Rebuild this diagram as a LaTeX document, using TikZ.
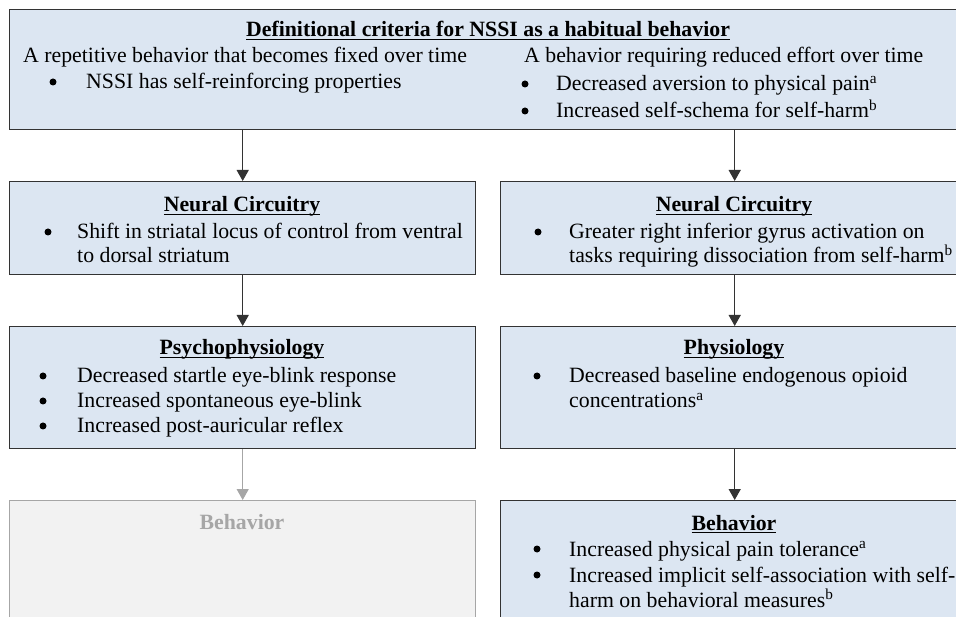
\documentclass[tikz,border=0pt]{standalone}
\usepackage{fontspec}
\setmainfont{Liberation Serif}
\usetikzlibrary{arrows.meta}
\definecolor{boxfill}{HTML}{DCE6F2}
\definecolor{boxline}{HTML}{333333}
\definecolor{greyfill}{HTML}{F2F2F2}
\definecolor{greyline}{HTML}{A6A6A6}
\newcommand\myul[1]{\setbox0\hbox{#1}\rlap{\rule[-3pt]{\wd0}{1.3pt}}\box0}
\begin{document}
\begin{tikzpicture}[x=1pt,y=-1pt,
  box/.style={draw=boxline, fill=boxfill, line width=1.4pt, inner sep=0pt, anchor=north west},
  gbox/.style={draw=greyline, fill=greyfill, line width=1.4pt, inner sep=0pt, anchor=north west},
  txt/.style={anchor=base west, inner sep=0pt, font=\fontsize{21.8}{26}\selectfont},
  ttl/.style={anchor=base, inner sep=0pt, font=\fontsize{21.8}{26}\selectfont\bfseries},
  bul/.style={circle, fill=black, draw=none, inner sep=0pt, minimum size=7pt, yshift=7pt},
  arr/.style={draw=boxline, line width=1.4pt, -{Triangle[length=11pt,width=12pt]}},
  garr/.style={draw=greyline, line width=1.4pt, -{Triangle[length=11pt,width=12pt]}}]
\useasboundingbox (0,0) rectangle (956,617);
\clip (0,0) rectangle (956,617);

% boxes
\node[box, minimum width=959pt, minimum height=120pt] (top) at (9,9) {};
\node[box, minimum width=466pt, minimum height=93pt] (nl) at (9,181) {};
\node[box, minimum width=468pt, minimum height=93pt] (nr) at (500,181) {};
\node[box, minimum width=466pt, minimum height=122pt] (pl) at (9,326) {};
\node[box, minimum width=468pt, minimum height=122pt] (pr) at (500,326) {};
\node[gbox, minimum width=466pt, minimum height=150pt] (bl) at (9,500) {};
\node[box, minimum width=468pt, minimum height=150pt] (br) at (500,500) {};

% arrows
\draw[arr] (top.south -| nl.north) -- (nl.north);
\draw[arr] (top.south -| nr.north) -- (nr.north);
\draw[arr] (nl.south) -- (pl.north);
\draw[arr] (nr.south) -- (pr.north);
\draw[garr] (pl.south) -- (bl.north);
\draw[arr] (pr.south) -- (br.north);

% top box text
\node[ttl] (t0) at (488,37) {\myul{Definitional criteria for NSSI as a habitual behavior}};
\node[txt] (t1) at (23,63) {A repetitive behavior that becomes fixed over time};
\node[bul] (t2b) at (53,89) {};
\node[txt] (t2) at (86,89) {NSSI has self-reinforcing properties};
\node[txt] (t3) at (524,63) {A behavior requiring reduced effort over time};
\node[bul] (t4b) at (525,91) {};
\node[txt] (t4) at (556,91) {Decreased aversion to physical pain\textsuperscript{a}};
\node[bul] (t5b) at (525,118) {};
\node[txt] (t5) at (556,118) {Increased self-schema for self-harm\textsuperscript{b}};

% neural circuitry
\node[ttl] (n0) at (242,212) {\myul{Neural Circuitry}};
\node[bul] (n1b) at (48,239) {};
\node[txt] (n1) at (77,239) {Shift in striatal locus of control from ventral};
\node[txt] (n2) at (77,263) {to dorsal striatum};
\node[ttl] (m0) at (734,212) {\myul{Neural Circuitry}};
\node[bul] (m1b) at (538,239) {};
\node[txt] (m1) at (569,239) {Greater right inferior gyrus activation on};
\node[txt] (m2) at (569,263) {tasks requiring dissociation from self-harm\textsuperscript{b}};

% psychophysiology / physiology
\node[ttl] (p0) at (242,355) {\myul{Psychophysiology}};
\node[bul] (p1b) at (43,383) {};
\node[txt] (p1) at (77,383) {Decreased startle eye-blink response};
\node[bul] (p2b) at (43,408) {};
\node[txt] (p2) at (77,408) {Increased spontaneous eye-blink};
\node[bul] (p3b) at (43,433) {};
\node[txt] (p3) at (77,433) {Increased post-auricular reflex};
\node[ttl] (q0) at (734,355) {\myul{Physiology}};
\node[bul] (q1b) at (537,383) {};
\node[txt] (q1) at (569,383) {Decreased baseline endogenous opioid};
\node[txt] (q2) at (569,408) {concentrations\textsuperscript{a}};

% behavior
\node[ttl, text=greyline] (b0) at (242,529) {Behavior};
\node[ttl] (c0) at (734,530) {\myul{Behavior}};
\node[bul] (c1b) at (537,556) {};
\node[txt] (c1) at (569,556) {Increased physical pain tolerance\textsuperscript{a}};
\node[bul] (c2b) at (537,582) {};
\node[txt] (c2) at (569,582) {Increased implicit self-association with self-};
\node[txt] (c3) at (569,607) {harm on behavioral measures\textsuperscript{b}};
\end{tikzpicture}
\end{document}
